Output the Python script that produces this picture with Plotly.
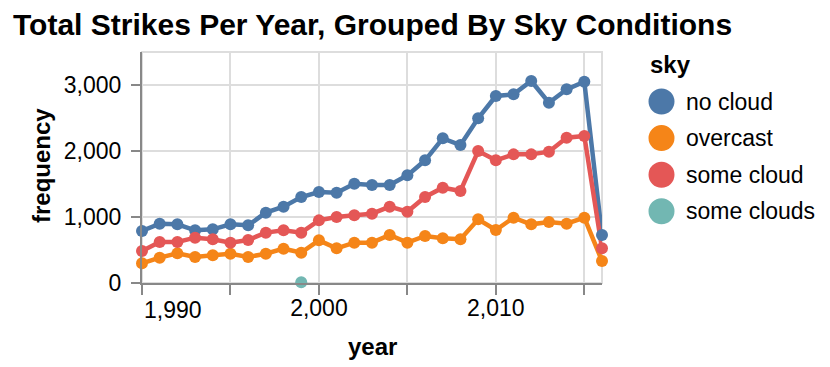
import plotly.graph_objects as go

years = list(range(1990, 2017))

no_cloud = [788, 899, 889, 798, 813, 889, 874, 1066, 1157, 1303, 1379, 1369, 1505, 1485,
            1485, 1631, 1859, 2192, 2091, 2495, 2833, 2859, 3061, 2732, 2934, 3050, 727]
overcast = [298, 384, 449, 394, 419, 444, 394, 444, 520, 460, 646, 525, 611, 611,
            727, 611, 712, 677, 662, 965, 803, 990, 889, 924, 899, 990, 333]
some_cloud = [485, 621, 621, 687, 662, 611, 652, 763, 798, 763, 949, 1000, 1025, 1050,
              1157, 1081, 1303, 1444, 1394, 2000, 1859, 1949, 1949, 1990, 2202, 2227, 525]
some_clouds_years = [1999]
some_clouds = [10]

sky_names = ["no cloud", "overcast", "some cloud", "some clouds"]
sky_colors = ["#4c78a8", "#f58518", "#e45756", "#72b7b2"]

font = "Liberation Sans, Arial, Helvetica, sans-serif"

# page has an 8px body margin, so the figure is 8px smaller than the window
OFF = 8
W, H = 830 - OFF, 367 - OFF
L, T = 134, 44
PW, PH = 460, 231
R, B = W - L - PW, H - T - PH


def paper(xs, ys):
    # screen pixel (reference picture) -> paper coords
    return (xs - OFF - L) / PW, 1 - (ys - OFF - T) / PH


fig = go.Figure()
series = [(years, no_cloud), (years, overcast), (years, some_cloud), (some_clouds_years, some_clouds)]
# lines first, then points on top (like vega-lite point overlay)
for (xs, ys), name, col in zip(series, sky_names, sky_colors):
    fig.add_trace(go.Scatter(x=xs, y=ys, name=name, mode="lines",
                             line=dict(color=col, width=4.5), cliponaxis=False, showlegend=False))
for (xs, ys), name, col in zip(series, sky_names, sky_colors):
    fig.add_trace(go.Scatter(x=xs, y=ys, name=name, mode="markers",
                             marker=dict(color=col, size=12), cliponaxis=False, showlegend=False))

# legend drawn vega-style
hx, hy = paper(648, 64)
fig.add_annotation(text="<b>sky</b>", x=hx, y=hy, xref="paper", yref="paper", xanchor="left",
                   yanchor="middle", showarrow=False, font=dict(size=24, color="black"))
for i, (name, col) in enumerate(zip(sky_names, sky_colors)):
    ypx = 101.5 + i * 36.6
    cx, cy = paper(661.5, ypx)
    fig.add_shape(type="circle", xref="paper", yref="paper",
                  xsizemode="pixel", ysizemode="pixel",
                  xanchor=cx, yanchor=cy, x0=-13, x1=13, y0=-13, y1=13,
                  fillcolor=col, line=dict(width=0))
    tx, ty = paper(684, ypx)
    fig.add_annotation(text=name, x=tx, y=ty, xref="paper", yref="paper", xanchor="left",
                       yanchor="middle", showarrow=False, font=dict(size=23, color="black"))

# axis titles
ax, ay = paper(372.5, 346)
fig.add_annotation(text="<b>year</b>", x=ax, y=ay, xref="paper", yref="paper",
                   showarrow=False, yanchor="middle", font=dict(size=24, color="black"))
fx, fy = paper(41, 166)
fig.add_annotation(text="<b>frequency</b>", x=fx, y=fy, xref="paper", yref="paper",
                   showarrow=False, textangle=-90, xanchor="center", yanchor="middle",
                   font=dict(size=24, color="black"))

# flush-left first x label
lx, ly = paper(142, 310)
fig.add_annotation(text="1,990", x=1990, y=ly, xref="x", yref="paper", xanchor="left",
                   yanchor="middle", showarrow=False, font=dict(size=23, color="black"))

fig.update_layout(
    width=W, height=H,
    margin=dict(l=L, r=R, t=T, b=B, pad=0),
    paper_bgcolor="white", plot_bgcolor="white",
    font=dict(family=font, color="black"),
    title=dict(text="<b>Total Strikes Per Year, Grouped By Sky Conditions</b>",
               x=(13 - OFF) / W, xanchor="left", xref="container",
               y=1 - (24 - OFF) / H, yanchor="middle", yref="container",
               font=dict(size=30, color="black")),
    showlegend=False,
)
fig.update_xaxes(
    range=[1990, 2016], tickvals=[1990, 1995, 2000, 2005, 2010, 2015],
    ticktext=["", "", "2,000", "", "2,010", ""],
    showgrid=True, gridcolor="#dddddd", gridwidth=2,
    showline=True, linecolor="#888888", linewidth=2,
    ticks="outside", ticklen=10, tickcolor="#888888", tickwidth=2,
    tickfont=dict(size=23), zeroline=False, automargin=False,
    ticklabelstandoff=-7,
)
fig.update_yaxes(
    range=[0, 3500], tickvals=[0, 1000, 2000, 3000],
    tickformat=",d",
    showgrid=True, gridcolor="#dddddd", gridwidth=2,
    showline=True, linecolor="#888888", linewidth=2,
    ticks="outside", ticklen=9, tickcolor="#888888", tickwidth=2,
    tickfont=dict(size=23), zeroline=False, automargin=False,
    ticklabelstandoff=5,
)
# view border (top and right)
fig.add_shape(type="rect", xref="paper", yref="paper", x0=0, x1=1, y0=0, y1=1,
              line=dict(color="#dddddd", width=2), layer="below")

fig.write_html("out.html")
